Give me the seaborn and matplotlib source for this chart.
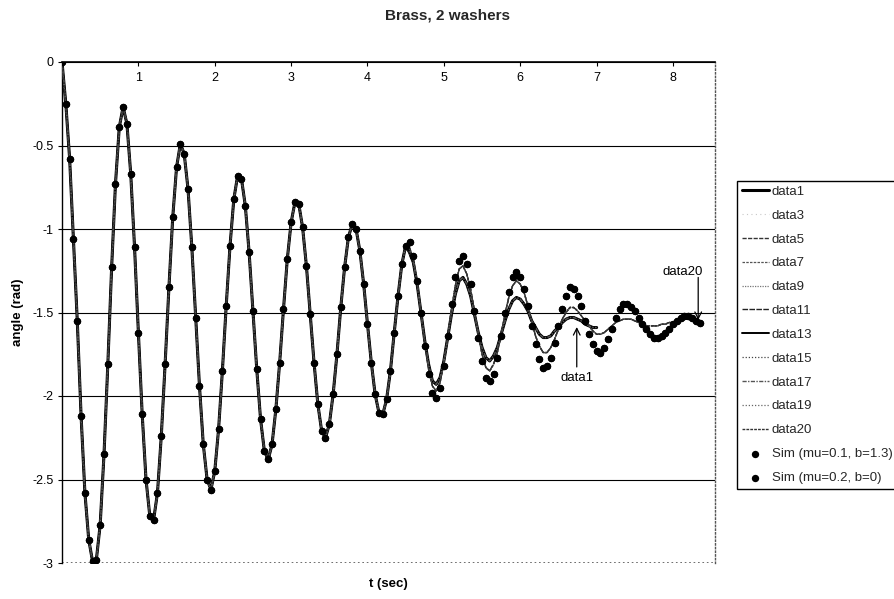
import numpy as np
import pandas as pd
import matplotlib
matplotlib.use("Agg")
import matplotlib.pyplot as plt
import seaborn as sns

sns.set_theme(style="white")
plt.rcParams['font.family'] = ['Liberation Sans', 'DejaVu Sans']

# ---------------- data ----------------
time_step = 0.05  # s between samples

# common part, t = 0.00 .. 4.50 s
angle_early = [
    0.00, -0.25, -0.58, -1.06, -1.55, -2.12, -2.58, -2.86, -2.99, -2.98,
    -2.77, -2.35, -1.81, -1.23, -0.73, -0.39, -0.27, -0.37, -0.67, -1.11,
    -1.62, -2.11, -2.50, -2.72, -2.74, -2.58, -2.24, -1.81, -1.35, -0.93,
    -0.63, -0.49, -0.55, -0.76, -1.11, -1.53, -1.94, -2.29, -2.50, -2.56,
    -2.45, -2.20, -1.85, -1.46, -1.10, -0.82, -0.68, -0.70, -0.86, -1.14,
    -1.49, -1.84, -2.14, -2.33, -2.38, -2.29, -2.08, -1.80, -1.48, -1.18,
    -0.96, -0.84, -0.85, -0.99, -1.22, -1.51, -1.80, -2.05, -2.21, -2.25,
    -2.17, -1.99, -1.75, -1.47, -1.23, -1.05, -0.97, -1.00, -1.13, -1.33,
    -1.57, -1.80, -1.99, -2.10, -2.11, -2.02, -1.85, -1.62, -1.40, -1.21,
    -1.10,
]

# later parts, from t = 4.55 s
tail_outer = [
    -1.08, -1.16, -1.31, -1.50, -1.70, -1.87, -1.98, -2.01, -1.95, -1.82,
    -1.64, -1.45, -1.29, -1.19, -1.16, -1.21, -1.33, -1.49, -1.65, -1.79,
    -1.89, -1.91, -1.87, -1.77, -1.64, -1.50, -1.38, -1.29, -1.26, -1.29,
    -1.36, -1.46, -1.58, -1.69, -1.78, -1.83, -1.82, -1.77, -1.68, -1.58,
    -1.48, -1.40, -1.35, -1.36, -1.40, -1.46, -1.55, -1.63, -1.69, -1.73,
    -1.74, -1.71, -1.66, -1.60, -1.53, -1.48, -1.45, -1.45, -1.47, -1.49,
    -1.53, -1.57, -1.60, -1.63, -1.65, -1.65, -1.64, -1.62, -1.60, -1.57,
    -1.55, -1.53, -1.52, -1.52, -1.53, -1.55, -1.56,
]
tail_mid = [
    -1.11, -1.18, -1.32, -1.50, -1.68, -1.84, -1.94, -1.97, -1.92, -1.80,
    -1.65, -1.48, -1.34, -1.24, -1.22, -1.27, -1.36, -1.49, -1.63, -1.75,
    -1.83, -1.85, -1.81, -1.74, -1.63, -1.51, -1.41, -1.34, -1.31, -1.33,
    -1.38, -1.46, -1.55, -1.64, -1.70, -1.74, -1.74, -1.71, -1.66, -1.60,
    -1.54, -1.50, -1.47, -1.47, -1.49, -1.52, -1.55, -1.58, -1.61, -1.63,
    -1.63, -1.62, -1.60, -1.58, -1.56, -1.55, -1.54, -1.54, -1.54, -1.55,
    -1.56, -1.57, -1.58, -1.58, -1.58, -1.58, -1.57, -1.57, -1.56, -1.56,
    -1.55, -1.55, -1.54, -1.54, -1.54, -1.55, -1.55,
]
tail_inner = [
    -1.14, -1.20, -1.33, -1.50, -1.67, -1.81, -1.91, -1.93, -1.89, -1.79,
    -1.65, -1.51, -1.39, -1.31, -1.29, -1.33, -1.40, -1.51, -1.62, -1.71,
    -1.77, -1.79, -1.76, -1.71, -1.63, -1.55, -1.48, -1.43, -1.41, -1.42,
    -1.45, -1.49, -1.55, -1.59, -1.63, -1.65, -1.65, -1.64, -1.61, -1.59,
    -1.56, -1.54, -1.53, -1.53, -1.54, -1.55, -1.57, -1.58, -1.59, -1.59,
]

line_labels = ["data1", "data3", "data5", "data7", "data9", "data11",
               "data13", "data15", "data17", "data19", "data20"]
line_tails = ["inner", "mid", "inner", "mid", "inner", "mid",
              "inner", "mid", "inner", "mid", "mid"]
sim_labels = ["Sim (mu=0.1, b=1.3)", "Sim (mu=0.2, b=0)"]
sim_tails = ["outer", "outer"]

x_ticks = [1, 2, 3, 4, 5, 6, 7, 8]
y_ticks = [0, -0.5, -1, -1.5, -2, -2.5, -3]

title = "Brass, 2 washers"
x_label = "t (sec)"
y_label = "angle (rad)"

tails = {"outer": tail_outer, "mid": tail_mid, "inner": tail_inner}


def series(tail_name):
    vals = np.array(angle_early + tails[tail_name])
    t = np.round(np.arange(len(vals)) * time_step, 3)
    return pd.DataFrame({"t": t, "angle": vals})


# ---------------- styles ----------------
line_styles = {
    "data1": dict(color="black", linewidth=2.2, linestyle="-"),
    "data3": dict(color="#c8c8c8", linewidth=0.8, linestyle=(0, (1, 3))),
    "data5": dict(color="#333333", linewidth=1.0, linestyle=(0, (3, 1))),
    "data7": dict(color="#555555", linewidth=0.9, linestyle=(0, (2, 1))),
    "data9": dict(color="#777777", linewidth=0.9, linestyle=(0, (1, 1))),
    "data11": dict(color="#222222", linewidth=1.0, linestyle=(0, (4, 1))),
    "data13": dict(color="black", linewidth=1.4, linestyle="-"),
    "data15": dict(color="#444444", linewidth=0.9, linestyle=(0, (1, 1.5))),
    "data17": dict(color="#555555", linewidth=1.0, linestyle=(0, (3, 1, 1, 1))),
    "data19": dict(color="#666666", linewidth=0.9, linestyle=(0, (1, 1.5))),
    "data20": dict(color="#333333", linewidth=1.0, linestyle=(0, (2, 0.8))),
}

fig = plt.figure(figsize=(8.95, 5.99), dpi=100)
ax = fig.add_axes([62 / 895, 1 - 563 / 599, 653 / 895, 501 / 599])

for lab, tn in zip(line_labels, line_tails):
    df = series(tn)
    sns.lineplot(data=df, x="t", y="angle", ax=ax, label=lab,
                 estimator=None, sort=False, zorder=3, **line_styles[lab])

for lab, tn in zip(sim_labels, sim_tails):
    df = series(tn)
    sns.scatterplot(data=df, x="t", y="angle", ax=ax, label=lab,
                    color="black", s=28, edgecolor="black", linewidth=0,
                    zorder=4)

# ---------------- axes ----------------
ax.set_xlim(0, 8.55)
ax.set_ylim(-3, 0)
ax.set_xticks(x_ticks)
ax.set_xticklabels([str(v) for v in x_ticks])
ax.set_yticks(y_ticks)
ax.set_yticklabels(["0", "-0.5", "-1", "-1.5", "-2", "-2.5", "-3"])

ax.spines["bottom"].set_position(("data", 0))
ax.spines["bottom"].set_color("black")
ax.spines["bottom"].set_linewidth(1.2)
ax.spines["left"].set_color("black")
ax.spines["left"].set_linewidth(1.0)
ax.spines["top"].set_visible(False)
ax.spines["right"].set_color("#555555")
ax.spines["right"].set_linestyle(":")
ax.spines["right"].set_linewidth(1.0)

ax.tick_params(axis="both", which="major", bottom=True, left=True,
               direction="out", length=3, width=0.8, color="black",
               labelsize=9, labelcolor="black")
ax.tick_params(axis="x", pad=4)
ax.tick_params(axis="y", pad=3)

ax.yaxis.grid(True, color="black", linewidth=0.8)
ax.xaxis.grid(False)
for gl, yv in zip(ax.get_ygridlines(), y_ticks):
    if yv == -3:
        gl.set_linestyle(":")
        gl.set_color("#555555")
        gl.set_linewidth(1.2)

ax.set_xlabel(x_label, fontsize=9.5, fontweight="bold", color="black")
ax.xaxis.set_label_coords(0.5, -0.042)
ax.xaxis.label.set_va("center")
ax.set_ylabel(y_label, fontsize=9.5, fontweight="bold", color="black")
ax.yaxis.set_label_coords(-0.0674, 0.5)
ax.yaxis.label.set_va("center")

fig.suptitle(title, x=0.5, y=1 - 16 / 599, fontsize=11, fontweight="bold",
             va="center")

# annotations
arrow_kw = dict(arrowstyle="->", color="black", lw=0.9, shrinkA=0, shrinkB=0)
ax.text(8.13, -1.256, "data20", ha="center", va="center", fontsize=9.5,
        color="black")
ax.annotate("", xy=(8.33, -1.545), xytext=(8.33, -1.29), arrowprops=arrow_kw)
ax.text(6.74, -1.892, "data1", ha="center", va="center", fontsize=9.5,
        color="black")
ax.annotate("", xy=(6.74, -1.587), xytext=(6.74, -1.826), arrowprops=arrow_kw)

# legend
handles, labels = ax.get_legend_handles_labels()
if ax.get_legend() is not None:
    ax.get_legend().remove()
leg = fig.legend(handles, labels, loc="upper left",
                 bbox_to_anchor=(737 / 895, 1 - 181 / 599),
                 fontsize=9.5, frameon=True, fancybox=False,
                 edgecolor="black", framealpha=1, borderpad=0.35,
                 labelspacing=0.88, handlelength=2.1, handletextpad=0.2,
                 borderaxespad=0)
leg.get_frame().set_linewidth(1.0)

fig.savefig("out.png", dpi=100)
